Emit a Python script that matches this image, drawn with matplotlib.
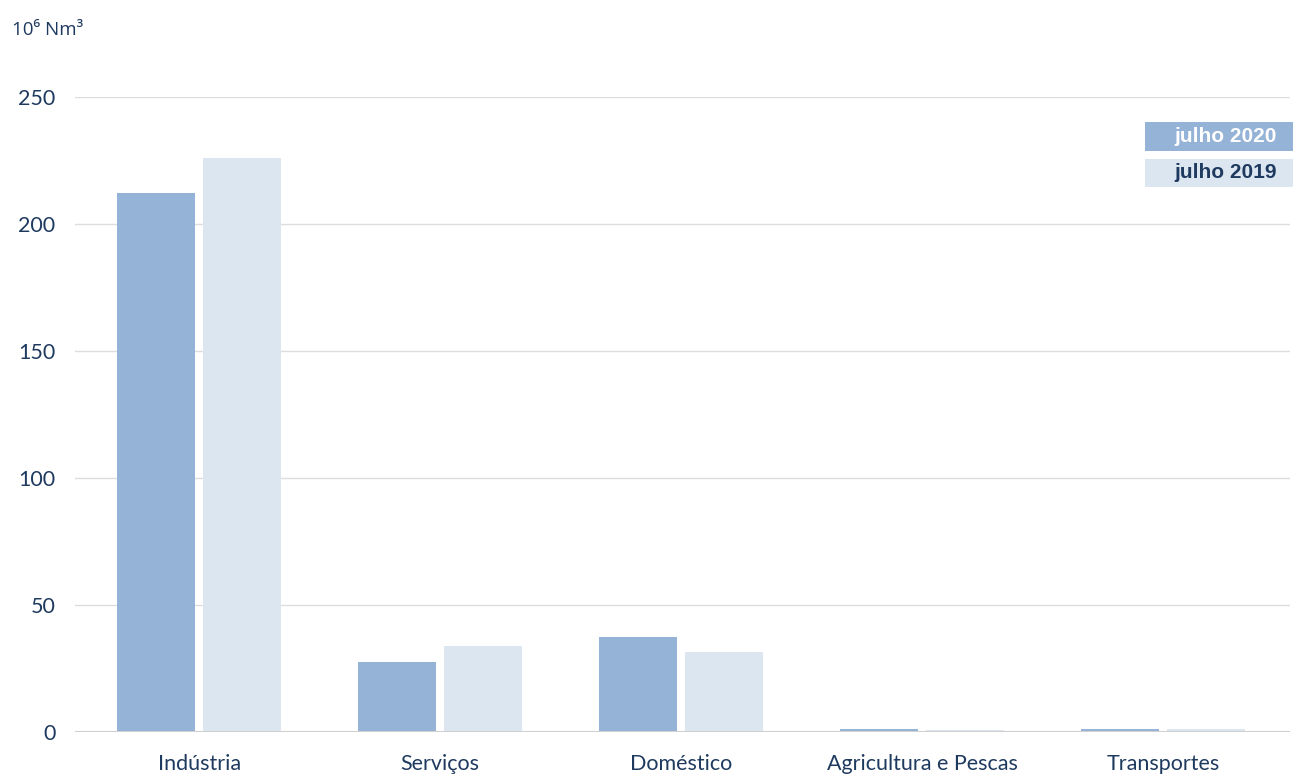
import numpy as np
import matplotlib
matplotlib.use('Agg')
from matplotlib import pyplot as plt
from matplotlib.patches import Rectangle

# data
categories = ['Indústria', 'Serviços', 'Doméstico', 'Agricultura e Pescas', 'Transportes']
jul_2020 = [212.2, 27.6, 37.4, 1.0, 1.1]
jul_2019 = [226.0, 33.9, 31.5, 0.6, 1.2]
series_labels = ['julho 2020', 'julho 2019']
yticks = [0, 50, 100, 150, 200, 250]

c2020 = '#95B3D7'
c2019 = '#DCE6F1'
navy = '#1F3A5F'

plt.rcParams['font.family'] = ['Lato', 'DejaVu Sans']

W, H = 1293, 775
fig = plt.figure(figsize=(W / 100, H / 100), dpi=100)
ax = fig.add_axes([75 / W, 43 / H, (1290 - 75) / W, (732 - 97) / H])

x = np.arange(len(categories))
bw = 0.324
off = 0.178
ax.bar(x - off, jul_2020, width=bw, color=c2020, zorder=3)
ax.bar(x + off, jul_2019, width=bw, color=c2019, zorder=3)

ax.set_xlim(-0.515, 4.527)
ax.set_ylim(0, 250)
ax.set_yticks(yticks)
ax.set_xticks(x)
ax.set_xticklabels(categories)
ax.grid(axis='y', color='#DDDDDD', linewidth=1, zorder=0)
ax.axhline(0, color='#D0D0D0', linewidth=1.5, zorder=4)
for s in ax.spines.values():
    s.set_visible(False)
ax.tick_params(axis='both', length=0, labelsize=15.5, labelcolor=navy)
ax.tick_params(axis='y', pad=14)
ax.tick_params(axis='x', pad=16)

# unit label
fig.text(12 / W, 1 - 30 / H, '10⁶ Nm³', fontsize=13.5, color=navy, va='center', ha='left',
         family=['Open Sans', 'DejaVu Sans'])

# legend boxes
boxes = [(122, 151, c2020, 'white'), (159, 187, c2019, navy)]
for (top, bot, fc, tc), lab in zip(boxes, series_labels):
    fig.patches.append(Rectangle((1145 / W, 1 - bot / H), (W - 1145) / W, (bot - top) / H,
                                 transform=fig.transFigure, facecolor=fc, edgecolor='none'))
    fig.text(1277 / W, 1 - (top + bot) / 2 / H, lab, fontsize=15, fontweight='bold',
             family='Liberation Sans', color=tc, ha='right', va='center')

fig.savefig('out.png', dpi=100)
